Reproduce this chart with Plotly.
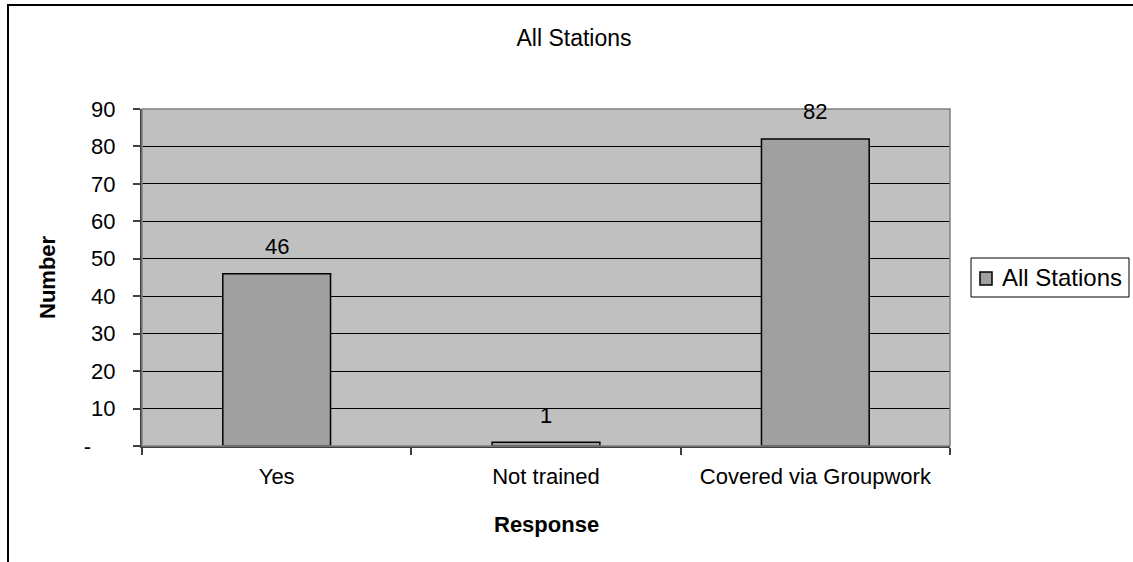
import plotly.graph_objects as go

# Survey responses, all stations combined
categories = ["Yes", "Not trained", "Covered via Groupwork"]
counts = [46, 1, 82]
series_name = "All Stations"
y_tick_values = [0, 10, 20, 30, 40, 50, 60, 70, 80, 90]
y_tick_labels = ["-" + "\u00a0" * 4, "10", "20", "30", "40", "50", "60", "70", "80", "90"]

FONT = "Liberation Sans, Arial, sans-serif"
W, H = 1133, 562
L, R, T, B = 142, 950, 109, 446  # plot area edges in pixels
BAR_COLOR = "#A0A0A0"

def px_x(x):
    return (x - L) / (R - L)

def px_y(y):
    return (B - y) / (B - T)

fig = go.Figure()
fig.add_trace(go.Bar(
    x=categories,
    y=counts,
    name=series_name,
    marker=dict(color=BAR_COLOR, line=dict(color="#000000", width=1.5)),
    width=0.4,
    showlegend=False,
))

# value labels above each bar
for cat, val in zip(categories, counts):
    fig.add_annotation(
        x=cat, y=val, text=str(val), showarrow=False,
        yanchor="middle", yshift=27,
        font=dict(family=FONT, size=22, color="#000000"),
    )

# axis titles
fig.add_annotation(
    xref="paper", yref="paper", x=px_x(47), y=px_y(277),
    text="<b>Number</b>", textangle=-90, showarrow=False,
    xanchor="center", yanchor="middle",
    font=dict(family=FONT, size=22, color="#000000"),
)
fig.add_annotation(
    xref="paper", yref="paper", x=0.5, y=px_y(524),
    text="<b>Response</b>", showarrow=False,
    xanchor="center", yanchor="middle",
    font=dict(family=FONT, size=22, color="#000000"),
)

# legend box: frame, swatch and series name
fig.add_shape(type="rect", xref="paper", yref="paper",
              x0=px_x(971), x1=px_x(1129), y0=px_y(297), y1=px_y(258),
              line=dict(color="#000000", width=1), fillcolor="#FFFFFF")
fig.add_shape(type="rect", xref="paper", yref="paper",
              x0=px_x(980), x1=px_x(992), y0=px_y(285), y1=px_y(272),
              line=dict(color="#000000", width=1.5), fillcolor=BAR_COLOR)
fig.add_annotation(
    xref="paper", yref="paper", x=px_x(1000), y=px_y(277.5),
    text=series_name, showarrow=False, xanchor="left", yanchor="middle",
    font=dict(family=FONT, size=24, color="#000000"),
)

# plot-area border (top/right) and outer chart frame
fig.add_shape(type="rect", xref="paper", yref="paper", x0=0, y0=0, x1=1, y1=1,
              line=dict(color="#808080", width=1.5), layer="above")
fig.add_shape(type="rect", xref="paper", yref="paper",
              x0=px_x(8), y0=px_y(5), x1=px_x(1150), y1=px_y(580),
              line=dict(color="#000000", width=2))

fig.update_layout(
    width=W, height=H,
    margin=dict(l=L, r=W - R, t=T, b=H - B, autoexpand=False),
    paper_bgcolor="#FFFFFF",
    plot_bgcolor="#C0C0C0",
    font=dict(family=FONT, size=22, color="#000000"),
    title=dict(
        text="All Stations", x=574 / W, y=1 - 38 / H,
        xref="container", yref="container",
        xanchor="center", yanchor="middle",
        font=dict(family=FONT, size=23, color="#000000"),
    ),
    bargap=0.6,
    showlegend=False,
    xaxis=dict(
        showgrid=False, showline=True, linecolor="#404040", linewidth=2,
        ticks="outside", tickson="boundaries", ticklen=7, tickcolor="#404040",
        tickwidth=1.5, tickfont=dict(family=FONT, size=22),
        ticklabelstandoff=10,
    ),
    yaxis=dict(
        range=[0, 90], tickvals=y_tick_values, ticktext=y_tick_labels,
        showgrid=True, gridcolor="#000000", gridwidth=1,
        showline=True, linecolor="#404040", linewidth=2,
        ticks="outside", ticklen=7, tickcolor="#404040", tickwidth=1.5,
        tickfont=dict(family=FONT, size=22), zeroline=False,
        ticklabelstandoff=13,
    ),
)

fig.write_html("out.html")
